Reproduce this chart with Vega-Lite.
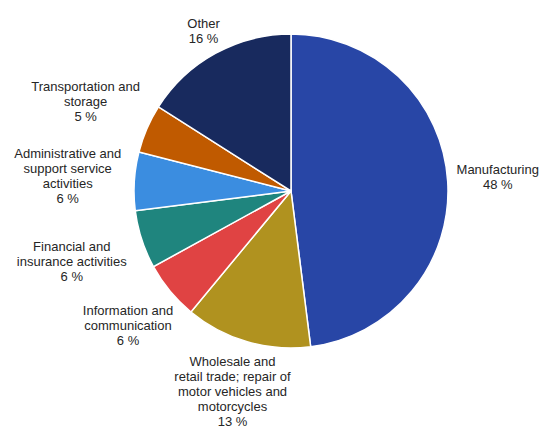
{
  "$schema": "https://vega.github.io/schema/vega-lite/v6.json",
  "autosize": {"type": "none"},
  "width": 512,
  "height": 382,
  "padding": {"left": 35, "top": 0, "right": 0, "bottom": 48},
  "background": "white",
  "config": {"view": {"stroke": null}},
  "data": {
    "values": [
      {"idx": 1, "sector": "Manufacturing", "share": 48},
      {"idx": 2, "sector": "Wholesale and\nretail trade; repair of\nmotor vehicles and\nmotorcycles", "share": 13},
      {"idx": 3, "sector": "Information and\ncommunication", "share": 6},
      {"idx": 4, "sector": "Financial and\ninsurance activities", "share": 6},
      {"idx": 5, "sector": "Administrative and\nsupport service\nactivities", "share": 6},
      {"idx": 6, "sector": "Transportation and\nstorage", "share": 5},
      {"idx": 7, "sector": "Other", "share": 16}
    ]
  },
  "transform": [
    {"calculate": "datum.sector + '\\n' + datum.share + ' %'", "as": "label"},
    {"calculate": "split(datum.label, '\\n')", "as": "ln"},
    {"calculate": "max(length(datum.ln[0]), length(datum.ln) > 1 ? length(datum.ln[1]) : 0, length(datum.ln) > 2 ? length(datum.ln[2]) : 0, length(datum.ln) > 3 ? length(datum.ln[3]) : 0, length(datum.ln) > 4 ? length(datum.ln[4]) : 0)", "as": "maxChars"},
    {"window": [{"op": "sum", "field": "share", "as": "cum"}], "sort": [{"field": "idx", "order": "ascending"}]},
    {"joinaggregate": [{"op": "sum", "field": "share", "as": "total"}]},
    {"calculate": "2 * PI * (datum.cum - datum.share / 2) / datum.total", "as": "midA"},
    {"calculate": "165 + 3.2 * datum.maxChars * abs(sin(datum.midA)) + 5 * length(datum.ln) * abs(cos(datum.midA))", "as": "blockR"},
    {"calculate": "datum.blockR * sin(datum.midA)", "as": "px"},
    {"calculate": "-datum.blockR * cos(datum.midA) - (length(datum.ln) - 1) * 7.5", "as": "py"},
    {"calculate": "sqrt(datum.px * datum.px + datum.py * datum.py)", "as": "anchorR"},
    {"calculate": "atan2(datum.px, -datum.py)", "as": "anchorA"}
  ],
  "resolve": {"scale": {"theta": "independent"}},
  "layer": [
    {
      "mark": {"type": "arc", "outerRadius": 157, "stroke": "white", "strokeWidth": 1.5},
      "encoding": {
        "theta": {"field": "share", "type": "quantitative", "stack": true},
        "order": {"field": "idx", "type": "quantitative"},
        "color": {
          "field": "idx",
          "type": "nominal",
          "scale": {
            "domain": [1, 2, 3, 4, 5, 6, 7],
            "range": ["#2846A6", "#B0921F", "#E04343", "#1F857E", "#3B8DE0", "#C05A00", "#182A5E"]
          },
          "legend": null
        }
      }
    },
    {
      "mark": {
        "type": "text",
        "font": "Liberation Sans",
        "fontSize": 13,
        "lineBreak": "\n",
        "lineHeight": 15,
        "align": "center",
        "baseline": "middle",
        "color": "#262626"
      },
      "encoding": {
        "theta": {"field": "anchorA", "type": "quantitative", "scale": null, "stack": null},
        "radius": {"field": "anchorR", "type": "quantitative", "scale": null},
        "text": {"field": "label", "type": "nominal"}
      }
    }
  ]
}
